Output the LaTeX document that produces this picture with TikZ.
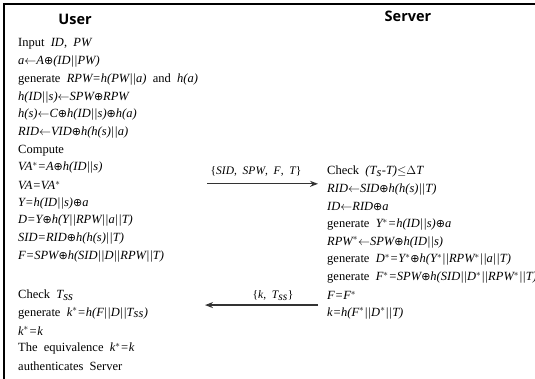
\documentclass[tikz,border=0pt]{standalone}
\usepackage{fontspec}
\setmainfont{Liberation Serif}
\newfontfamily\titlefont{Open Sans}
\newfontfamily\symfont{DejaVu Sans}
\usetikzlibrary{arrows.meta}
\newcommand\myxor{{\symfont\fontsize{11}{12}\selectfont ⊕}}
\newcommand\myla{$\leftarrow$}
\newcommand\myst{$^{*}$}
\begin{document}
\begin{tikzpicture}[x=1pt,y=-1pt,
  txt/.style={anchor=west,inner sep=0pt,font=\fontsize{12.5}{14}\selectfont},
  ttl/.style={inner sep=0pt,font=\titlefont\bfseries\fontsize{14.5}{16}\selectfont},
  msg/.style={draw=black!80,line width=1.3pt,-{Stealth[length=8pt,width=6pt]}},
  lbl/.style={inner sep=0pt,font=\fontsize{11.5}{13}\selectfont}]
\useasboundingbox (0,0) rectangle (535,379);
\draw[line width=1.5pt] (4,379) -- (4,4) -- (535,4);
\node[ttl] (user) at (75,19) {User};
\node[ttl] (server) at (408,16) {Server};
\def\yy#1{44+#1*17.7}
\node[txt] (l1) at (18,{\yy{0}}) {Input\ \ {\itshape ID},\ \ {\itshape PW}};
\node[txt] (l2) at (18,{\yy{1}}) {\itshape a\myla A\myxor(ID||PW)};
\node[txt] (l3) at (18,{\yy{2}}) {generate\ \ {\itshape RPW=h(PW||a)}\ \ and\ \ {\itshape h(a)}};
\node[txt] (l4) at (18,{\yy{3}}) {\itshape h(ID||s)\myla SPW\myxor RPW};
\node[txt] (l5) at (18,{\yy{4}}) {\itshape h(s)\myla C\myxor h(ID||s)\myxor h(a)};
\node[txt] (l6) at (18,{\yy{5}}) {\itshape RID\myla VID\myxor h(h(s)||a)};
\node[txt] (l7) at (18,{\yy{6}}) {Compute};
\node[txt] (l8) at (18,{\yy{7}}) {\itshape VA\myst=A\myxor h(ID||s)};
\node[txt] (l9) at (18,{\yy{8}}) {\itshape VA=VA\myst};
\node[txt] (l10) at (18,{\yy{9}}) {\itshape Y=h(ID||s)\myxor a};
\node[txt] (l11) at (18,{\yy{10}}) {\itshape D=Y\myxor h(Y||RPW||a||T)};
\node[txt] (l12) at (18,{\yy{11}}) {\itshape SID=RID\myxor h(h(s)||T)};
\node[txt] (l13) at (18,{\yy{12}}) {\itshape F=SPW\myxor h(SID||D||RPW||T)};
\node[txt] (l14) at (18,{\yy{14.2}}) {Check\ \ {\itshape T$_{\textit{ss}}$}};
\node[txt] (l15) at (18,{\yy{15.2}}) {generate\ \ {\itshape k\myst=h(F||D||T$_{\textit{ss}}$)}};
\node[txt] (l16) at (18,{\yy{16.2}}) {\itshape k\myst=k};
\node[txt] (l17) at (18,{\yy{17.2}}) {The\ \ equivalence\ \ {\itshape k\myst=k}};
\node[txt] (l18) at (18,{\yy{18.2}}) {authenticates\ \ Server};
\node[txt] (r1) at (327,{\yy{7.2}}) {Check\ \ {\itshape (T$_{\textit{s}}$-T)}${\leq}{\Delta}${\itshape T}};
\node[txt] (r2) at (327,{\yy{8.2}}) {\itshape RID\myla SID\myxor h(h(s)||T)};
\node[txt] (r3) at (327,{\yy{9.2}}) {\itshape ID\myla RID\myxor a};
\node[txt] (r4) at (327,{\yy{10.2}}) {generate\ \ {\itshape Y\myst=h(ID||s)\myxor a}};
\node[txt] (r5) at (327,{\yy{11.2}}) {\itshape RPW\myst\myla SPW\myxor h(ID||s)};
\node[txt] (r6) at (327,{\yy{12.2}}) {generate\ \ {\itshape D\myst=Y\myst\myxor h(Y\myst||RPW\myst||a||T)}};
\node[txt] (r7) at (327,{\yy{13.2}}) {generate\ \ {\itshape F\myst=SPW\myxor h(SID||D\myst||RPW\myst||T)}};
\node[txt] (r8) at (327,{\yy{14.2}}) {\itshape F=F\myst};
\node[txt] (r9) at (327,{\yy{15.2}}) {\itshape k=h(F\myst||D\myst||T)};
\coordinate (a1s) at (207,{\yy{7.9}});
\coordinate (a1e) at (318,{\yy{7.9}});
\draw[msg] (a1s) -- (a1e);
\node[lbl] (m1) at (256,{\yy{7.2}}) {\{{\itshape SID},\ \ {\itshape SPW},\ \ {\itshape F},\ \ {\itshape T}\}};
\coordinate (a2s) at (318,{\yy{14.75}});
\coordinate (a2e) at (205,{\yy{14.75}});
\draw[msg] (a2s) -- (a2e);
\node[lbl] (m2) at (273,{\yy{14.2}}) {\{{\itshape k},\ \ {\itshape T$_{\textit{ss}}$}\}};
\end{tikzpicture}
\end{document}
